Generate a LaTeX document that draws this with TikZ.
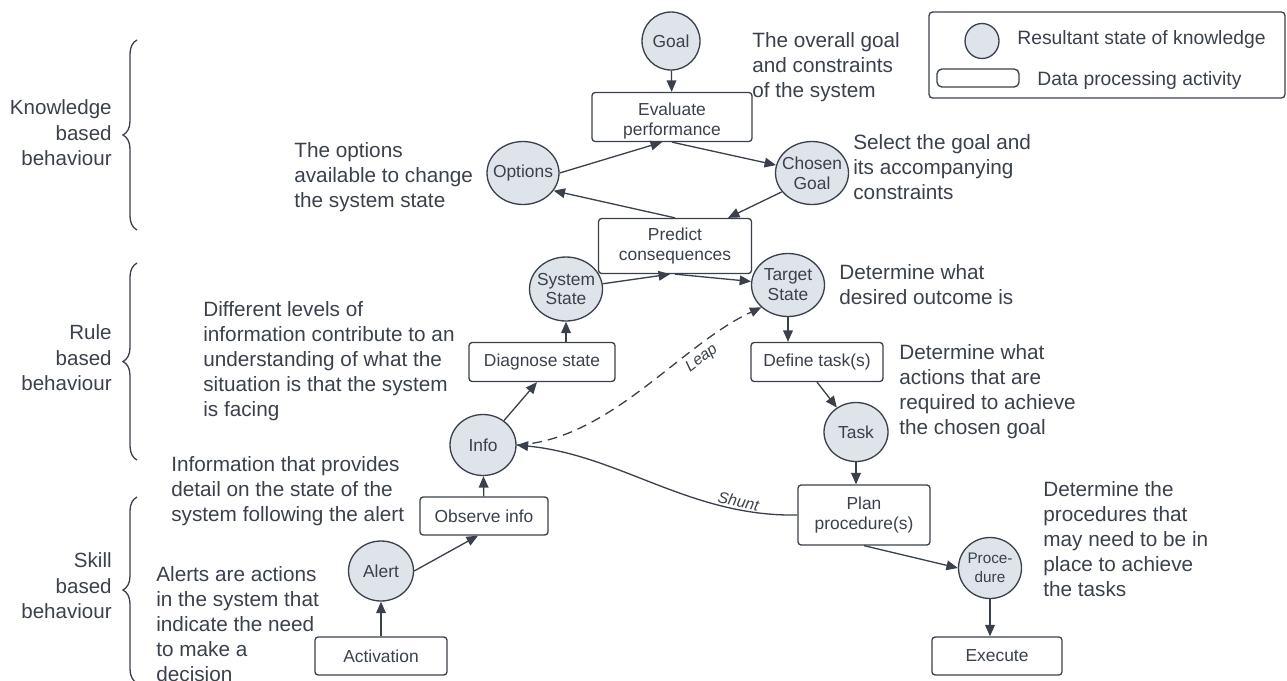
\documentclass[tikz,border=0pt]{standalone}
\usepackage{fontspec}
\setmainfont{Liberation Sans}
\usetikzlibrary{shapes.geometric,arrows.meta,decorations.pathreplacing}
\definecolor{lc}{HTML}{3A414C}
\definecolor{sf}{HTML}{DFE3EA}
\newcommand\ndfont{\fontsize{9.9}{11.3}\selectfont}
\newcommand\anfont{\fontsize{11.8}{14.2}\selectfont}
\newcommand\sdfont{\fontsize{11.7}{14.5}\selectfont}
\newcommand\lgfont{\fontsize{11}{13}\selectfont}
\newcommand\lbfont{\fontsize{9}{10}\selectfont\itshape}
\begin{document}
\begin{tikzpicture}[x=0.02cm,y=-0.02cm,
  state/.style={ellipse, draw=lc, fill=sf, line width=0.75pt, inner xsep=-0.1cm, inner ysep=0pt, align=center, text=lc, font=\ndfont},
  act/.style={rectangle, rounded corners=1.8pt, draw=lc, fill=white, line width=0.75pt, inner sep=0pt, align=center, text=lc, font=\ndfont},
  note/.style={anchor=north west, align=left, inner sep=0pt, text=lc, font=\anfont},
  side/.style={anchor=east, align=right, inner sep=0pt, text=lc, font=\sdfont},
  arr/.style={draw=lc, line width=0.75pt, -{Triangle[length=6.5pt,width=5.5pt]}},
  rarr/.style={draw=lc, line width=0.75pt, {Triangle[length=6.5pt,width=5.5pt]}-},
  lbl/.style={text=lc, font=\lbfont, inner sep=1pt},
  brc/.style={draw=lc, line width=0.75pt, decorate, decoration={brace, amplitude=0.28cm}}
]
\useasboundingbox (0,0) rectangle (1287,680);
\clip (0,0) rectangle (1287,680);

% legend
\node[draw=lc, rounded corners=2pt, line width=0.75pt, minimum width=7.12cm, minimum height=1.72cm, inner sep=0pt] (legend) at (1107,55) {};
\node[state, minimum width=0.68cm, minimum height=0.7cm] (legcirc) at (982,41) {};
\node[act, rounded corners=2.8pt, minimum width=1.64cm, minimum height=0.36cm] (legrect) at (978,78) {};
\node[anchor=west, inner sep=0pt, text=lc, font=\lgfont] (legt1) at (1017,39) {Resultant state of knowledge};
\node[anchor=west, inner sep=0pt, text=lc, font=\lgfont] (legt2) at (1037,80) {Data processing activity};

% braces and side labels
\draw[brc] (137,230) -- (137,40);
\draw[brc] (137,460) -- (137,263);
\draw[brc] (137,683) -- (137,497);
\node[side] (kb) at (112,133) {Knowledge\\based\\behaviour};
\node[side] (rb) at (112,358) {Rule\\based\\behaviour};
\node[side] (sb) at (112,586) {Skill\\based\\behaviour};

% states
\node[state, minimum width=1.16cm, minimum height=1.16cm] (goal) at (671,41) {Goal};
\node[state, minimum width=1.44cm, minimum height=1.26cm] (options) at (523,173) {Options};
\node[state, minimum width=1.46cm, minimum height=1.26cm] (chosen) at (812,173) {Chosen\\Goal};
\node[state, minimum width=1.46cm, minimum height=1.28cm] (system) at (566,289) {System\\State};
\node[state, minimum width=1.46cm, minimum height=1.26cm] (target) at (788,285) {Target\\State};
\node[state, minimum width=1.32cm, minimum height=1.22cm] (info) at (483,445) {Info};
\node[state, minimum width=1.28cm, minimum height=1.18cm] (task) at (856,432) {Task};
\node[state, minimum width=1.26cm, minimum height=1.22cm, font=\fontsize{8.7}{10.5}\selectfont] (proc) at (990,568) {Proce-\\dure};
\node[state, minimum width=1.3cm, minimum height=1.2cm] (alert) at (381,571) {Alert};

% activities
\node[act, minimum width=3.2cm, minimum height=0.98cm] (eval) at (672,117) {\raisebox{-0.09cm}[\height][\depth]{\begin{tabular}{@{}c@{}}Evaluate\\performance\end{tabular}}};
\node[act, minimum width=3.06cm, minimum height=1.1cm] (predict) at (675,246) {Predict\\consequences};
\node[act, minimum width=2.92cm, minimum height=0.78cm] (diagnose) at (542,362) {Diagnose state};
\node[act, minimum width=2.64cm, minimum height=0.78cm] (define) at (817,362) {Define task(s)};
\node[act, minimum width=2.56cm, minimum height=0.76cm] (observe) at (484,516) {Observe info};
\node[act, minimum width=2.64cm, minimum height=1.2cm] (plan) at (864,515) {Plan\\procedure(s)};
\node[act, minimum width=2.6cm, minimum height=0.76cm] (execute) at (997,656) {Execute};
\node[act, minimum width=2.64cm, minimum height=0.76cm] (activation) at (381,656) {Activation};

% annotations
\node[note] (n1) at (752,29.5) {\strut The overall goal\\and constraints\\of the system};
\node[note] (n2) at (853,131.5) {\strut Select the goal and\\its accompanying\\constraints};
\node[note] (n3) at (294,139.5) {\strut The options\\available to change\\the system state};
\node[note] (n4) at (839,261.5) {\strut Determine what\\desired outcome is};
\node[note] (n5) at (203,298.5) {\strut Different levels of\\information contribute to an\\understanding of what the\\situation is that the system\\is facing};
\node[note] (n6) at (899,341.5) {\strut Determine what\\actions that are\\required to achieve\\the chosen goal};
\node[note] (n7) at (171,454) {\strut Information that provides\\detail on the state of the\\system following the alert};
\node[note] (n8) at (1043,478.5) {\strut Determine the\\procedures that\\may need to be in\\place to achieve\\the tasks};
\node[note] (n9) at (156,564) {\strut Alerts are actions\\in the system that\\indicate the need\\to make a\\decision};

% connectors
\draw[arr] (goal) -- (eval);
\draw[arr] (options.east) -- ([xshift=-0.2cm]eval.south);
\draw[arr] (eval.south) -- (chosen);
\draw[arr] (chosen.212) -- ([xshift=1.06cm]predict.north);
\draw[arr] (predict.north) -- (options.-30);
\draw[arr] (system) -- ([xshift=-0.1cm]predict.south);
\draw[arr] (predict.south) -- (target);
\draw[arr] (system.south |- diagnose.north) -- (system.south);
\draw[arr] (info) -- ([xshift=-0.1cm]diagnose.south);
\draw[arr] (observe) -- (info);
\draw[arr] (alert.east) -- ([xshift=-0.12cm]observe.south);
\draw[arr] (activation) -- (alert);
\draw[arr] (target.south) -- (target.south |- define.north);
\draw[arr] (define.south) -- (task);
\draw[arr] (task.south) -- (task.south |- plan.north);
\draw[arr] (plan.south) -- (proc.west);
\draw[arr] (proc.south) -- (proc.south |- execute.north);
\draw[arr, dash pattern=on 5.5pt off 3.5pt] (info.east) .. controls (610,440) and (680,345) .. (target.220)
  node[pos=0.72, sloped, below, lbl, inner sep=2.2pt] (leap) {Leap};
\draw[rarr] (info.east) .. controls (620,455) and (690,517) .. (plan.west)
  node[pos=0.8, sloped, above, lbl] (shunt) {Shunt};
\end{tikzpicture}
\end{document}
